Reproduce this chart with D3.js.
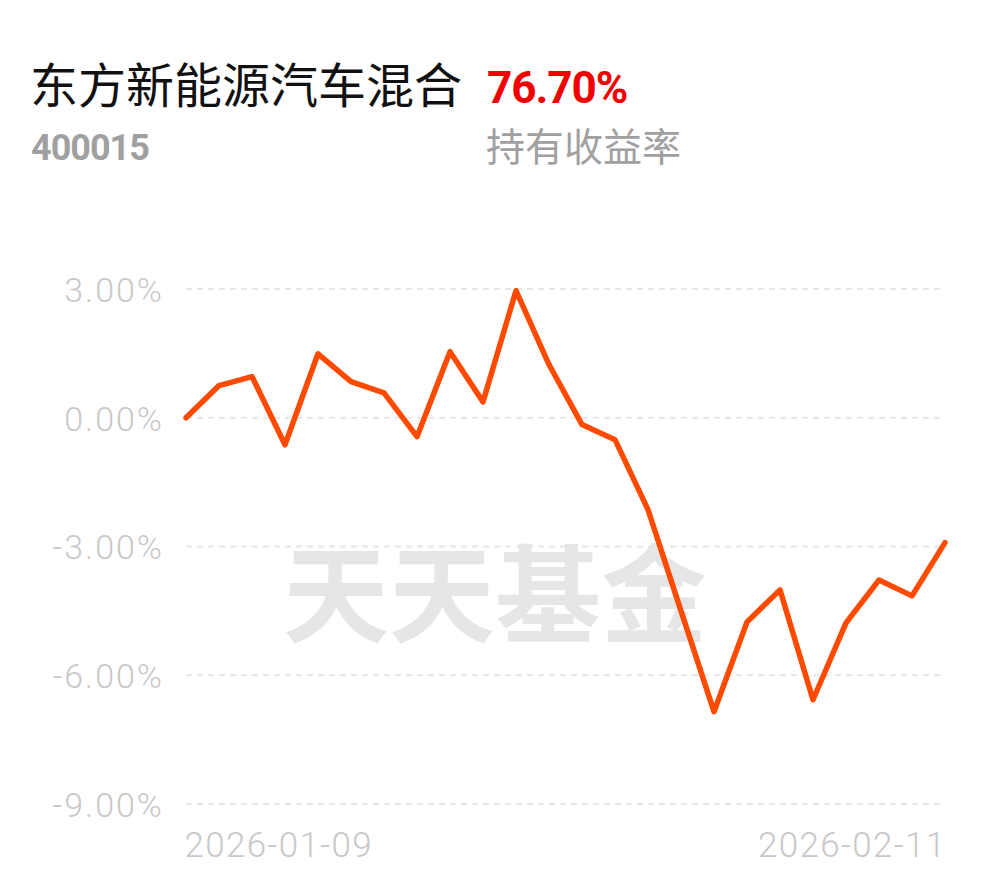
<!DOCTYPE html>
<html lang="zh">
<head>
<meta charset="utf-8">
<title>东方新能源汽车混合</title>
<style>
    html, body { margin: 0; padding: 0; background: #fff; }
    svg text { font-family: Roboto, "Noto Sans CJK SC", sans-serif; }
</style>
</head>
<body>
<div id="chart"></div>
<script src="https://d3js.org/d3.v7.min.js"></script>
<script>
    // data
    var fundName = "东方新能源汽车混合";
    var fundCode = "400015";
    var holdReturn = "76.70%";
    var holdLabel = "持有收益率";

    var dates = ["2026-01-09", "2026-01-12", "2026-01-13", "2026-01-14", "2026-01-15", "2026-01-16",
        "2026-01-19", "2026-01-20", "2026-01-21", "2026-01-22", "2026-01-23",
        "2026-01-26", "2026-01-27", "2026-01-28", "2026-01-29", "2026-01-30",
        "2026-02-02", "2026-02-03", "2026-02-04", "2026-02-05", "2026-02-06",
        "2026-02-09", "2026-02-10", "2026-02-11"];
    var returns = [0.00, 0.75, 0.96, -0.63, 1.49, 0.84, 0.58, -0.44, 1.54, 0.37, 2.96,
        1.24, -0.16, -0.51, -2.14, -4.50, -6.85, -4.76, -4.01, -6.57, -4.78, -3.78, -4.15, -2.91];
    var yTicks = [3, 0, -3, -6, -9];
    var xTickLabels = ["2026-01-09", "2026-02-11"];

    var width = 990, height = 878;
    var margin = {left: 186, right: 45, top: 289, bottom: 74};

    var svg = d3.select("#chart").append("svg")
        .attr("width", width)
        .attr("height", height);

    // header
    svg.append("text").attr("x", 30).attr("y", 103)
        .style("font-size", "48px").style("fill", "#111")
        .style("font-family", "'Noto Sans CJK SC', sans-serif")
        .text(fundName);
    svg.append("text").attr("x", 487).attr("y", 103)
        .style("font-size", "44px").style("font-weight", "bold").style("fill", "#f20000")
        .style("letter-spacing", "-1px")
        .text(holdReturn);
    svg.append("text").attr("x", 31).attr("y", 160)
        .style("font-size", "36px").style("font-weight", "bold").style("fill", "#a0a0a0")
        .style("letter-spacing", "-1px")
        .text(fundCode);
    svg.append("text").attr("x", 486).attr("y", 161)
        .style("font-size", "39px").style("fill", "#a0a0a0")
        .style("font-family", "'Noto Sans CJK SC', sans-serif")
        .text(holdLabel);

    var x = d3.scalePoint().domain(dates).range([margin.left, width - margin.right]);
    var y = d3.scaleLinear().domain([-9, 3]).range([height - margin.bottom, margin.top]);

    // grid lines
    svg.append("g").selectAll("line")
        .data(yTicks)
        .enter().append("line")
        .attr("x1", margin.left)
        .attr("x2", width - margin.right)
        .attr("y1", function (d) { return y(d); })
        .attr("y2", function (d) { return y(d); })
        .style("stroke", "#e6e6e6")
        .style("stroke-width", 2)
        .style("stroke-dasharray", "6,5");

    // y axis labels
    var yAxis = d3.axisLeft(y).tickValues(yTicks).tickSize(0).tickPadding(0)
        .tickFormat(function (d) { return d.toFixed(2) + "%"; });
    var yG = svg.append("g").attr("transform", "translate(164,0)").call(yAxis);
    yG.select(".domain").remove();
    yG.selectAll("text")
        .style("font-size", "34px").style("font-weight", 300)
        .style("letter-spacing", "2px")
        .style("fill", "#c8c8c8").style("font-family", "Roboto, sans-serif")
        .attr("dy", "0.36em");

    // x axis labels (first and last date only)
    var xAxis = d3.axisBottom(x).tickValues(xTickLabels).tickSize(0).tickPadding(0);
    var xG = svg.append("g").attr("transform", "translate(0,832)").call(xAxis);
    xG.select(".domain").remove();
    xG.selectAll("text")
        .style("font-size", "35px").style("font-weight", 300)
        .style("letter-spacing", "1.3px")
        .style("fill", "#c8c8c8").style("font-family", "Roboto, sans-serif")
        .attr("dy", "0.71em")
        .attr("dx", function (d, i) { return i === 0 ? -2 : 1; })
        .attr("text-anchor", function (d, i) { return i === 0 ? "start" : "end"; });

    // watermark
    svg.append("text")
        .attr("x", 495).attr("y", 588)
        .attr("text-anchor", "middle").attr("dominant-baseline", "central")
        .style("font-family", "'Noto Sans CJK SC', sans-serif")
        .style("font-size", "106px").style("font-weight", 700)
        .style("fill", "#e6e6e6")
        .text("天天基金");

    // return line
    var line = d3.line()
        .x(function (d, i) { return x(dates[i]); })
        .y(function (d) { return y(d); });

    svg.append("path")
        .datum(returns)
        .attr("d", line)
        .style("fill", "none")
        .style("stroke", "#ff4a00")
        .style("stroke-width", 5.5)
        .style("stroke-linejoin", "round")
        .style("stroke-linecap", "round");
</script>
</body>
</html>
